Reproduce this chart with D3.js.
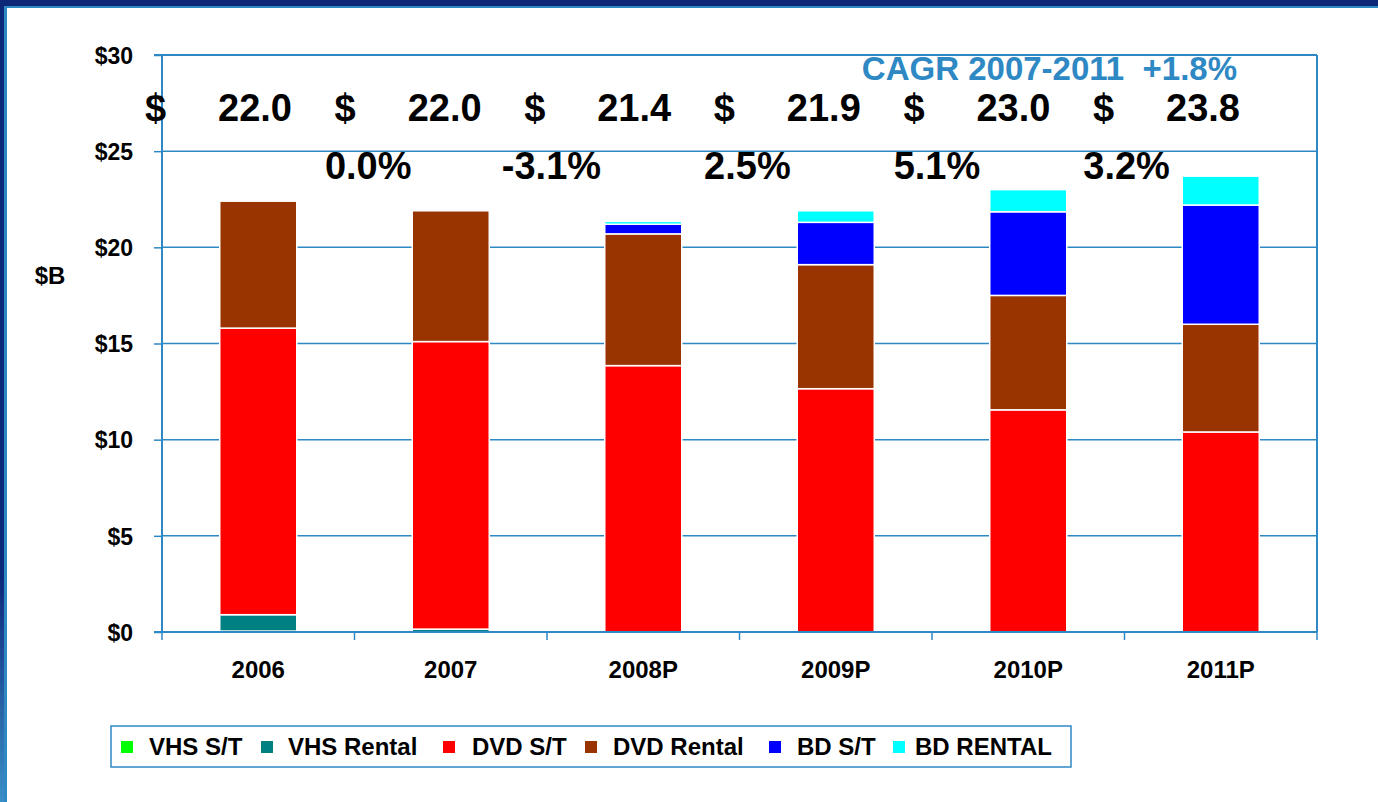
<!DOCTYPE html>
<html>
<head>
<meta charset="utf-8">
<script src="https://cdn.jsdelivr.net/npm/d3@7"></script>
<style>
    body { margin: 0; background: #fff; }
    svg { display: block; font-family: Arial, "Liberation Sans", sans-serif; }
    text { font-weight: bold; }
</style>
</head>
<body>
<script>
// Chart data ($ billions)
var years = ["2006", "2007", "2008P", "2009P", "2010P", "2011P"];
var seriesNames = ["VHS S/T", "VHS Rental", "DVD S/T", "DVD Rental",
                   "BD S/T", "BD RENTAL"];
var vhsSell = [0.05, 0, 0, 0, 0, 0];
var vhsRental = [0.85, 0.15, 0, 0, 0, 0];
var dvdSell = [14.9, 14.95, 13.85, 12.65, 11.55, 10.4];
var dvdRental = [6.6, 6.8, 6.85, 6.45, 5.95, 5.6];
var bdSell = [0, 0, 0.5, 2.2, 4.35, 6.2];
var bdRental = [0, 0, 0.15, 0.6, 1.15, 1.5];
var totalLabels = ["22.0", "22.0", "21.4", "21.9", "23.0", "23.8"];
var growthLabels = ["0.0%", "-3.1%", "2.5%", "5.1%", "3.2%"];
var yTicks = [0, 5, 10, 15, 20, 25, 30];
var cagrText = "CAGR 2007-2011  +1.8%";

var colors = ["#00ff00", "#008080", "#ff0000", "#993300", "#0000ff", "#00ffff"];
var lineBlue = "#2e88c4";
var FONT = "Arial, 'Liberation Sans', sans-serif";

var W = 1378, H = 802;
var margin = {top: 55, right: 61, bottom: 170, left: 162},
    width = W - margin.left - margin.right,
    height = H - margin.top - margin.bottom;

var svg = d3.select("body").append("svg")
    .attr("width", W)
    .attr("height", H);

// slide frame: navy strip on top and left, thin blue line inside it
var grad = svg.append("defs").append("linearGradient")
    .attr("id", "leftGrad").attr("x1", 0).attr("y1", 0)
    .attr("x2", 0).attr("y2", 1);
grad.append("stop").attr("offset", "0.72").attr("stop-color", "#0e2878");
grad.append("stop").attr("offset", "1").attr("stop-color", "#3a8ec8");

svg.append("rect").attr("x", 0).attr("y", 0).attr("width", W)
    .attr("height", 6).attr("fill", "#0e2878");
svg.append("rect").attr("x", 0).attr("y", 6).attr("width", W)
    .attr("height", 2).attr("fill", lineBlue);
svg.append("rect").attr("x", 0).attr("y", 0).attr("width", 4)
    .attr("height", H).attr("fill", "url(#leftGrad)");
svg.append("rect").attr("x", 4).attr("y", 6).attr("width", 3)
    .attr("height", H).attr("fill", lineBlue);

var g = svg.append("g")
    .attr("transform", "translate(" + margin.left + "," + margin.top + ")");

var xScale = d3.scaleBand().domain(years).range([0, width])
    .paddingInner(0.6).paddingOuter(0.3);
var xBand = d3.scaleBand().domain(years).range([0, width]);
var yScale = d3.scaleLinear().domain([0, 30]).range([height, 0]);

// gridlines
g.selectAll(".grid")
    .data(yTicks.slice(1))
    .enter().append("line")
    .attr("x1", 0).attr("x2", width)
    .attr("y1", d => yScale(d)).attr("y2", d => yScale(d))
    .attr("stroke", lineBlue).attr("stroke-width", 1.5);

// right border of plot area
g.append("line")
    .attr("x1", width).attr("x2", width)
    .attr("y1", 0).attr("y2", height)
    .attr("stroke", lineBlue).attr("stroke-width", 2);

// stacked bars
var table = years.map(function(y, i) {
    return {year: y, s0: vhsSell[i], s1: vhsRental[i], s2: dvdSell[i],
            s3: dvdRental[i], s4: bdSell[i], s5: bdRental[i]};
});
var stack = d3.stack().keys(["s0", "s1", "s2", "s3", "s4", "s5"]);
var layers = stack(table);

g.selectAll(".layer")
    .data(layers)
    .enter().append("g")
    .attr("fill", (d, i) => colors[i])
    .selectAll("rect")
    .data(d => d.filter(p => p[1] - p[0] > 0))
    .enter().append("rect")
    .attr("x", d => xScale(d.data.year))
    .attr("width", xScale.bandwidth())
    .attr("y", d => yScale(d[1]))
    .attr("height", d => yScale(d[0]) - yScale(d[1]))
    .attr("stroke", "#fff")
    .attr("stroke-width", 1.5);

// y axis
var yAxis = d3.axisLeft(yScale).tickValues(yTicks)
    .tickSize(8).tickFormat(d => "$" + d);
var ya = g.append("g").call(yAxis);
ya.select(".domain").attr("stroke", lineBlue).attr("stroke-width", 2)
    .attr("d", "M0," + height + "V0");
ya.selectAll(".tick line").attr("stroke", lineBlue).attr("stroke-width", 1.5);
ya.selectAll(".tick text")
    .attr("x", -29)
    .attr("dy", "0.36em")
    .style("font-size", "23px").style("font-weight", "bold")
    .style("font-family", FONT)
    .attr("fill", "#000");

// x axis baseline with tick marks on category boundaries
var xa = g.append("g").attr("transform", "translate(0," + height + ")");
xa.append("line").attr("x1", -8).attr("x2", width)
    .attr("stroke", lineBlue).attr("stroke-width", 2);
xa.selectAll(".xt")
    .data(years.concat(["end"]))
    .enter().append("line")
    .attr("x1", (d, i) => i * xBand.step())
    .attr("x2", (d, i) => i * xBand.step())
    .attr("y1", 0).attr("y2", 8)
    .attr("stroke", lineBlue).attr("stroke-width", 1.5);
xa.selectAll(".xl")
    .data(years)
    .enter().append("text")
    .attr("x", d => xScale(d) + xScale.bandwidth() / 2)
    .attr("y", 46)
    .attr("text-anchor", "middle")
    .style("font-size", "24px")
    .text(d => d);

// top border of the plot area
g.append("line").attr("x1", -8).attr("x2", width)
    .attr("y1", 0).attr("y2", 0)
    .attr("stroke", lineBlue).attr("stroke-width", 2);

// y axis title
svg.append("text")
    .attr("x", 50).attr("y", 284)
    .attr("text-anchor", "middle")
    .style("font-size", "24px")
    .text("$B");

// totals row: "$" then value, accounting style
var totals = g.selectAll(".tot")
    .data(years)
    .enter().append("g");
totals.append("text")
    .attr("x", (d, i) => xBand(d) - 17 - 2.9 * i)
    .attr("y", 66)
    .style("font-size", "38px")
    .text("$");
totals.append("text")
    .attr("x", (d, i) => xBand(d) + 130 - 2.9 * i)
    .attr("y", 66)
    .attr("text-anchor", "end")
    .style("font-size", "38px")
    .text((d, i) => totalLabels[i]);

// growth row, between categories
g.selectAll(".gr")
    .data(growthLabels)
    .enter().append("text")
    .attr("x", (d, i) => xBand(years[i + 1]) + 57 - 2.9 * i)
    .attr("y", 124)
    .attr("text-anchor", "end")
    .style("font-size", "38px")
    .text(d => d);

// CAGR note
g.append("text")
    .attr("x", width - 80)
    .attr("y", 25)
    .attr("text-anchor", "end")
    .style("font-size", "33px")
    .attr("fill", lineBlue)
    .style("white-space", "pre")
    .text(cagrText);

// legend
var legend = svg.append("g").attr("transform", "translate(111,726)");
legend.append("rect")
    .attr("width", 960).attr("height", 41)
    .attr("fill", "#fff").attr("stroke", lineBlue).attr("stroke-width", 1.5);
var legendX = [10, 150, 332, 474, 658, 782];
var legendTextX = [38, 177, 361, 502, 686, 804];
var items = legend.selectAll(".li")
    .data(seriesNames)
    .enter().append("g");
items.append("rect")
    .attr("x", (d, i) => legendX[i]).attr("y", 15)
    .attr("width", 12).attr("height", 12)
    .attr("fill", (d, i) => colors[i]);
items.append("text")
    .attr("x", (d, i) => legendTextX[i]).attr("y", 29)
    .style("font-size", "24px")
    .text(d => d);
</script>
</body>
</html>
